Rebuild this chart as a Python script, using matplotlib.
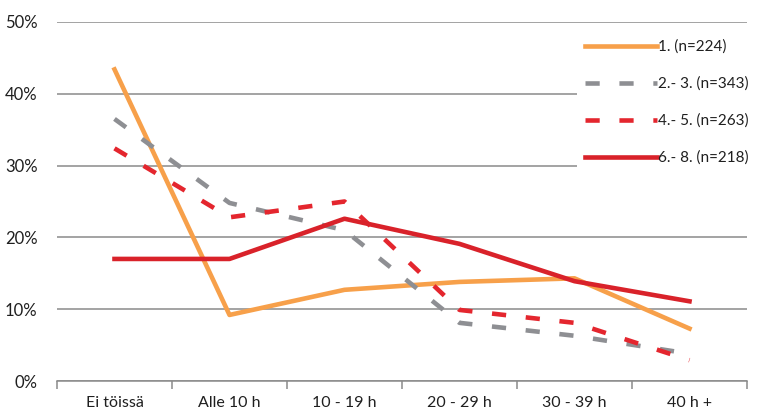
import matplotlib
matplotlib.use("Agg")
import matplotlib.pyplot as plt
from matplotlib.ticker import FuncFormatter

categories = ["Ei töissä", "Alle 10 h", "10 - 19 h", "20 - 29 h", "30 - 39 h", "40 h +"]
series_labels = ["1. (n=224)", "2.- 3. (n=343)", "4.- 5. (n=263)", "6.- 8. (n=218)"]
s1 = [43.4, 9.2, 12.7, 13.8, 14.3, 7.3]
s2 = [36.5, 24.8, 21.0, 8.1, 6.3, 3.8]
s3 = [32.4, 22.8, 25.0, 9.9, 8.1, 2.9]
s4 = [17.0, 17.0, 22.6, 19.1, 13.9, 11.1]
y_ticks = [0, 10, 20, 30, 40, 50]

plt.rcParams['font.family'] = ['Lato', 'DejaVu Sans']

fig = plt.figure(figsize=(7.6, 4.17), dpi=100)
ax = fig.add_axes([57/760, 1-381/417, 690/760, 359/417])

x = [i + 0.5 for i in range(len(categories))]
lw = 3.3
ax.plot(x, s1, color="#F7A04A", lw=lw, label=series_labels[0], zorder=3)
ax.plot(x, s2, color="#8E8F93", lw=lw, dashes=(3.1, 4.3), label=series_labels[1], zorder=3)
ax.plot(x, s3, color="#E4262E", lw=lw, dashes=(3.1, 4.3), label=series_labels[2], zorder=3)
ax.plot(x, s4, color="#D9222A", lw=lw, label=series_labels[3], zorder=3)

ax.set_xlim(0, len(categories))
ax.set_ylim(0, 50)
ax.set_yticks(y_ticks)
ax.yaxis.set_major_formatter(FuncFormatter(lambda v, p: f"{int(v)}%"))
ax.grid(axis='y', color="#8A8A8A", lw=1.1, zorder=1)
ax.set_axisbelow(True)

ax.set_xticks(range(len(categories) + 1))
ax.set_xticklabels([])
ax.set_xticks(x, minor=True)
ax.set_xticklabels(categories, minor=True)
ax.tick_params(axis='x', which='major', length=6, width=1.1, color="#8A8A8A", direction='out')
ax.tick_params(axis='x', which='minor', length=0, pad=11, labelsize=11.5, labelcolor="#1F1F1F")
ax.tick_params(axis='y', length=0, pad=14, labelsize=12, labelcolor="#1F1F1F")

for sp in ['top', 'right', 'left']:
    ax.spines[sp].set_visible(False)
ax.spines['bottom'].set_color("#8A8A8A")
ax.spines['bottom'].set_linewidth(1.1)

leg = ax.legend(loc='upper left', bbox_to_anchor=(0.754, 0.972), frameon=True,
                handlelength=4.7, handletextpad=0.1, labelspacing=1.48,
                fontsize=11, borderpad=0.5, borderaxespad=0)
leg.get_frame().set_facecolor('white')
leg.get_frame().set_edgecolor('none')
leg.get_frame().set_alpha(1)
leg.set_zorder(5)
for t in leg.get_texts():
    t.set_color("#1F1F1F")

fig.savefig("out.png", dpi=100)
